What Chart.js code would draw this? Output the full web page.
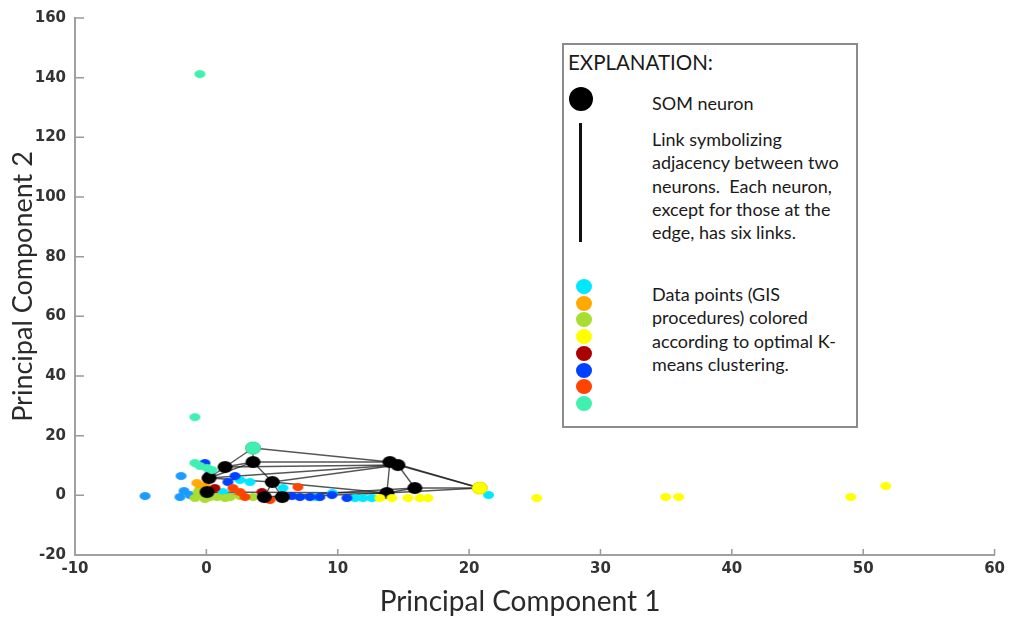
<!DOCTYPE html>
<html>
<head>
<meta charset="utf-8">
<script src="https://cdn.jsdelivr.net/npm/chart.js@4.4.1/dist/chart.umd.min.js"></script>
<style>
  html, body { margin: 0; padding: 0; background: #fff; }
  #wrap { position: relative; width: 1010px; height: 618px; }
  #chart { position: absolute; left: 0; top: 0; }
  .key-box { position: absolute; left: 562px; top: 43px; width: 292px; height: 381px; border: 2px solid #8c8c8c; background: #fff; }
  .key-text { position: absolute; font-family: Lato, "Open Sans", sans-serif; color: #1a1a1a; white-space: nowrap; }
  .dot { position: absolute; border-radius: 50%; }
  .x-title { position: absolute; left: 320px; width: 400px; top: 584px; text-align: center; font-family: Lato, "Open Sans", sans-serif; font-size: 28px; line-height: 32px; color: #2a2a2a; }
</style>
</head>
<body>
<div id="wrap">
  <canvas id="chart" width="1010" height="618"></canvas>
  <div class="x-title">Principal Component 1</div>
  <div class="key-box"></div>
  <div class="key-text" style="left:568px; top:48px; font-size:20.5px; line-height:28px;">EXPLANATION:</div>
  <div class="dot" style="left:569px; top:87px; width:24px; height:24px; background:#000;"></div>
  <div class="key-text" style="left:652px; top:91px; font-size:18px; line-height:24px;">SOM neuron</div>
  <div style="position:absolute; left:579px; top:123px; width:3px; height:119px; background:#111;"></div>
  <div class="key-text" style="left:652px; top:128px; font-size:18px; line-height:23.3px;">
    Link symbolizing<br>adjacency between two<br>neurons.&nbsp; Each neuron,<br>except for those at the<br>edge, has six links.
  </div>
  <div id="key-dots"></div>
  <div class="key-text" style="left:652px; top:283px; font-size:18px; line-height:23.3px;">
    Data points (GIS<br>procedures) colored<br>according to optimal K-<br>means clustering.
  </div>
</div>
<script>
// --- Axis ranges ---
const xMin = -10, xMax = 60, xStep = 10;
const yMin = -20, yMax = 160, yStep = 20;

// --- Cluster colours (legend order) ---
const clusterColors = ['#00e8ff', '#ffaa00', '#aadd33', '#ffff00', '#aa0000', '#0040ff', '#ff4400', '#40f0b0'];
const azureColor = '#1a9cff';

// --- Data points by cluster ---
const azureX = [-4.67, -1.93, -1.70, -2.01, -1.25];
const azureY = [-0.23, 6.47, 1.44, -0.57, 0.10];

const cyanX = [1.26, 3.32, 5.83, 9.59, 11.31, 11.92, 21.48, 8.34, 12.60, 2.56];
const cyanY = [1.11, 4.46, 2.45, 0.77, -0.91, -0.91, 0.10, -0.57, -0.91, 5.13];

const orangeX = [-0.72, -0.49, -0.11];
const orangeY = [4.12, 2.11, 3.12];

const greenX = [-0.87, -0.26, 0.27, 0.81, 1.80, 3.55, -0.64, 1.42, 2.56, -0.11];
const greenY = [-0.91, 0.10, -0.57, -0.57, -0.57, -0.57, 1.11, -0.91, -0.23, -1.24];

const yellowX = [13.21, 14.12, 15.34, 16.26, 16.87, 20.81, 25.15, 34.96, 35.95, 49.05, 51.71];
const yellowY = [-0.91, -0.91, -0.91, -0.91, -0.91, 2.45, -0.91, -0.57, -0.57, -0.57, 3.12];

const darkRedX = [4.23, 0.65];
const darkRedY = [1.11, 2.45];

const blueX = [-0.11, 1.64, 7.12, 7.88, 9.56, 10.70, 6.51, 8.64, 2.18, 0.27];
const blueY = [10.83, 4.46, -0.57, -0.57, 0.10, -0.91, -0.23, -0.57, 6.47, 7.14];

const redX = [2.02, 2.94, 6.97, 4.84, 2.56];
const redY = [2.45, -0.57, 2.78, -1.58, 1.11];

const aquaX = [-0.49, -0.87, 3.55, -0.49, 0.05, -0.87, 0.43];
const aquaY = [141.2, 26.2, 15.86, 9.82, 9.15, 10.83, 8.48];

// --- SOM neurons and their links ---
const neuronX = [3.55, 3.55, 1.42, 0.20, 0.05, 5.02, 4.41, 5.78, 13.97, 14.58, 15.87, 13.74, 20.81];
const neuronY = [15.86, 11.16, 9.49, 5.80, 1.11, 4.46, -0.57, -0.57, 11.16, 10.16, 2.45, 0.77, 2.45];
const links = [
  [0, 1], [0, 2], [0, 8], [1, 2], [1, 8], [1, 5], [1, 3], [2, 3], [2, 9], [3, 4],
  [3, 5], [3, 9], [4, 6], [5, 6], [5, 7], [5, 9], [5, 11], [6, 7], [7, 11], [8, 9],
  [8, 11], [8, 12], [9, 10], [9, 12], [10, 11], [10, 12], [11, 12], [4, 11], [6, 10]
];

// --- Legend dots ---
const keyDots = document.getElementById('key-dots');
clusterColors.forEach((c, i) => {
  const d = document.createElement('div');
  d.className = 'dot';
  d.style.cssText = `left:576px; top:${279 + i * 16.7}px; width:16px; height:15px; background:${c};`;
  keyDots.appendChild(d);
});

// --- Helpers ---
function ellipse(color, w, h) {
  const c = document.createElement('canvas');
  c.width = w + 2;
  c.height = h + 2;
  const g = c.getContext('2d');
  g.fillStyle = color;
  g.beginPath();
  g.ellipse(c.width / 2, c.height / 2, w / 2, h / 2, 0, 0, Math.PI * 2);
  g.fill();
  return c;
}

const zip = (xs, ys) => xs.map((x, i) => ({ x: x, y: ys[i] }));
const onNeuron = p => neuronX.some((nx, i) => nx === p.x && neuronY[i] === p.y);

// data points that sit right on a neuron are drawn a little bigger and hide it
function pointSet(xs, ys, color) {
  const small = ellipse(color, 11, 8);
  const big = ellipse(color, 16, 13);
  const pts = zip(xs, ys);
  return {
    data: pts,
    pointStyle: pts.map(p => onNeuron(p) ? big : small),
    pointRadius: 5
  };
}

// listed bottom layer first; reversed below because Chart.js paints dataset 0 last
const layers = [];

links.forEach(([a, b]) => {
  layers.push({
    data: [{ x: neuronX[a], y: neuronY[a] }, { x: neuronX[b], y: neuronY[b] }],
    showLine: true,
    borderColor: 'rgba(30,30,30,0.75)',
    borderWidth: 1.4,
    pointRadius: 0
  });
});

layers.push(pointSet(azureX, azureY, azureColor));
layers.push(pointSet(cyanX, cyanY, clusterColors[0]));
layers.push(pointSet(orangeX, orangeY, clusterColors[1]));
layers.push(pointSet(greenX, greenY, clusterColors[2]));
layers.push(pointSet(darkRedX, darkRedY, clusterColors[4]));
layers.push(pointSet(blueX, blueY, clusterColors[5]));
layers.push(pointSet(redX, redY, clusterColors[6]));
layers.push({
  data: zip(neuronX, neuronY),
  pointStyle: ellipse('#000', 15, 12),
  pointRadius: 6
});
layers.push(pointSet(yellowX, yellowY, clusterColors[3]));
layers.push(pointSet(aquaX, aquaY, clusterColors[7]));

const datasets = layers.slice().reverse();

// inward tick marks, like the original plot
const innerTicks = {
  id: 'innerTicks',
  afterDraw(chart) {
    const { ctx, chartArea, scales } = chart;
    ctx.save();
    ctx.strokeStyle = '#9a9a9a';
    ctx.lineWidth = 1.5;
    ctx.beginPath();
    for (let v = xMin + xStep; v <= xMax; v += xStep) {
      const px = scales.x.getPixelForValue(v);
      ctx.moveTo(px, chartArea.bottom);
      ctx.lineTo(px, chartArea.bottom - 6);
    }
    for (let v = yMin + yStep; v <= yMax; v += yStep) {
      const py = scales.y.getPixelForValue(v);
      ctx.moveTo(chartArea.left, py);
      ctx.lineTo(chartArea.left + 9, py);
    }
    ctx.stroke();
    ctx.restore();
  }
};

const tickFont = { family: '"DejaVu Sans", sans-serif', size: 15, weight: 'bold' };
const titleFont = { family: 'Lato, "Open Sans", sans-serif', size: 27 };

new Chart(document.getElementById('chart'), {
  type: 'scatter',
  data: { datasets: datasets },
  options: {
    responsive: false,
    animation: false,
    events: [],
    layout: { padding: { top: 18, right: 15, left: 0, bottom: 0 } },
    plugins: { legend: { display: false }, tooltip: { enabled: false } },
    scales: {
      x: {
        type: 'linear',
        min: xMin, max: xMax,
        ticks: { stepSize: xStep, color: '#333', font: tickFont, padding: 5 },
        grid: { display: false, drawTicks: false },
        border: { color: '#a0a0a0', width: 2 },
        afterFit: s => { s.height = 63; }
      },
      y: {
        type: 'linear',
        min: yMin, max: yMax,
        ticks: { stepSize: yStep, color: '#333', font: tickFont, padding: 9 },
        grid: { display: false, drawTicks: false },
        border: { color: '#a0a0a0', width: 2 },
        title: { display: true, text: 'Principal Component 2', color: '#2a2a2a', font: titleFont, padding: { top: 7, bottom: 0 } },
        afterFit: s => { s.width = 75; }
      }
    }
  },
  plugins: [innerTicks]
});
</script>
</body>
</html>
